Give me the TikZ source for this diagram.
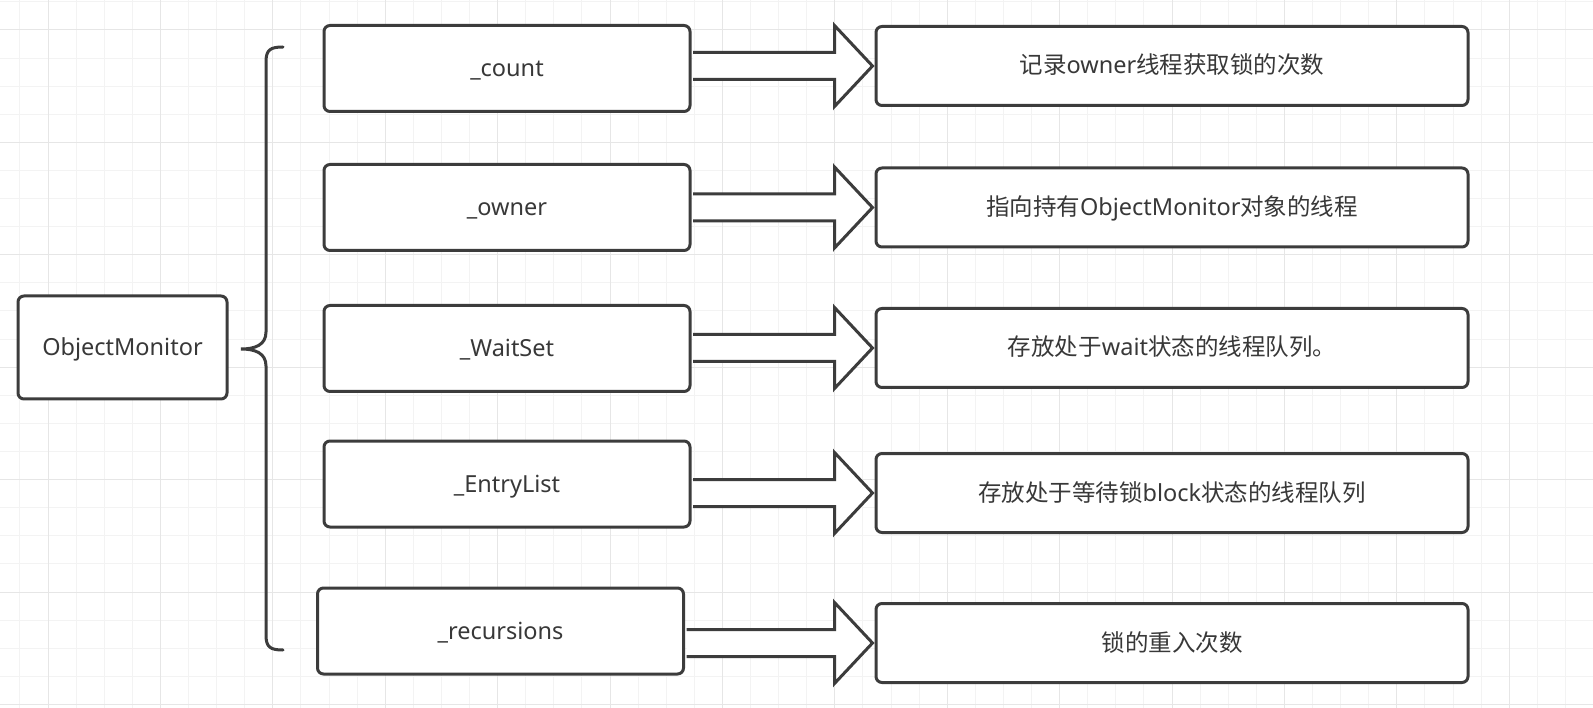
\documentclass[tikz,border=0pt]{standalone}
\usepackage{fontspec}
\setmainfont{Noto Sans}
\newfontfamily\cjk{Noto Sans CJK SC}
\usetikzlibrary{positioning,calc}
\definecolor{edge}{HTML}{3C3C3C}
\definecolor{ink}{HTML}{383838}
\definecolor{minorline}{HTML}{F3F3F3}
\definecolor{majorline}{HTML}{E6E6E6}

\begin{document}
\begin{tikzpicture}[x=1pt, y=-1pt,
    main/.style = {rectangle, rounded corners=6pt, line width=3pt, draw=edge, fill=white, text=ink, inner sep=0pt, text height=20pt, text depth=4pt, font=\fontsize{23.5}{27}\selectfont},
    mid/.style = {main, minimum width=366pt, minimum height=86pt},
    desc/.style = {main, minimum width=592pt, minimum height=79pt},
    fat/.style = {line width=3pt, draw=edge, fill=white,
        to path={let \p1=(\tikztostart), \p2=(\tikztotarget) in
            (\x1+1.5pt,\y2+13.5pt) -- (\x2-40pt,\y2+13.5pt) -- (\x2-40pt,\y2+40.5pt) -- (\x2-2pt,\y2)
            -- (\x2-40pt,\y2-40.5pt) -- (\x2-40pt,\y2-13.5pt) -- (\x1+1.5pt,\y2-13.5pt)}}]

    % grid
    \useasboundingbox (0,0) rectangle (1593,708);
    \fill[white] (0,0) rectangle (1593,708);
    \draw[minorline, line width=1pt, step=28.1pt, shift={(19.9,30)}] (-19.9,-30) grid (1573.1,678);
    \draw[majorline, line width=1pt, step=112.4pt, shift={(48,30)}] (-48,-30) grid (1545,678);

    % brace
    \draw[edge, line width=3pt, line cap=round] (283,47) .. controls (270,47) and (266,50) .. (266,62) -- (266,332)
        .. controls (266,345) and (255,349) .. (241,349) .. controls (255,349) and (266,353) .. (266,366)
        -- (266,635) .. controls (266,647) and (270,650) .. (283,650);

    \node[main, minimum width=209pt, minimum height=103pt] (1) at (122.5,347.5) {ObjectMonitor};

    \node[mid] (2) at (507,68.5) {\_count};
    \node[mid] (3) at (507,207.5) {\_owner};
    \node[mid] (4) at (507,348.5) {\_WaitSet};
    \node[mid] (5) at (507,484) {\_EntryList};
    \node[mid] (6) at (500.5,631) {\_recursions};

    \node[desc] (7) at (1172,66) {{\cjk 记录}owner{\cjk 线程获取锁的次数}};
    \node[desc] (8) at (1172,207.5) {{\cjk 指向持有}ObjectMonitor{\cjk 对象的线程}};
    \node[desc] (9) at (1172,348) {{\cjk 存放处于}wait{\cjk 状态的线程队列。}};
    \node[desc] (10) at (1172,493) {{\cjk 存放处于等待锁}block{\cjk 状态的线程队列}};
    \node[desc] (11) at (1172,643) {\cjk 锁的重入次数};

    \path[fat] (2.east) to (7.west);
    \path[fat] (3.east) to (8.west);
    \path[fat] (4.east) to (9.west);
    \path[fat] (5.east) to (10.west);
    \path[fat] (6.east) to (11.west);
\end{tikzpicture}
\end{document}
